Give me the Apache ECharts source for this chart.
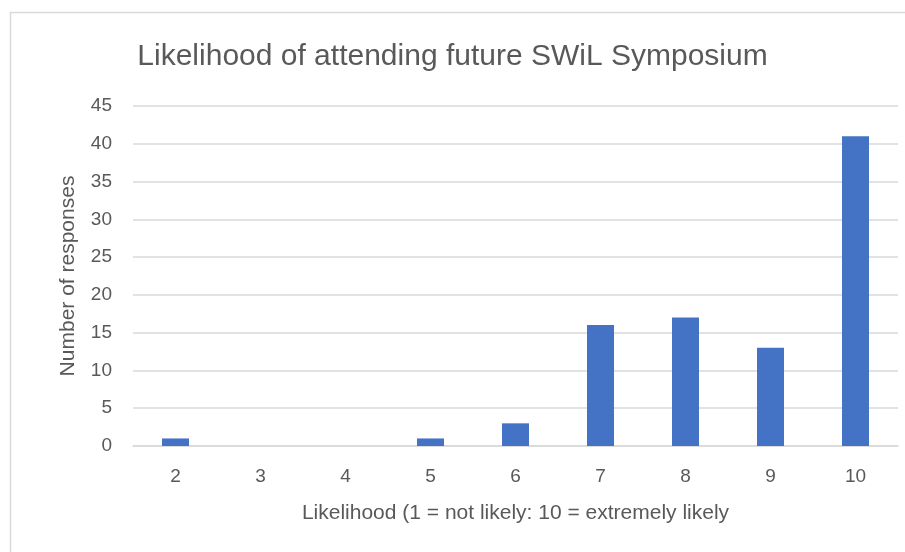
<!DOCTYPE html>
<html><head><meta charset="utf-8">
<script src="https://cdn.jsdelivr.net/npm/echarts@6/dist/echarts.min.js"></script>
<style>html,body{margin:0;padding:0;background:#fff}#c{width:905px;height:552px}</style>
</head><body><div id="c"></div>
<script>
const categories = ['2','3','4','5','6','7','8','9','10'];
const responses = [1,0,0,1,3,16,17,13,41];
const yTicks = {min:0, max:45, interval:5};
const titleText = 'Likelihood of attending future SWiL Symposium';
const xAxisName = 'Likelihood (1 = not likely: 10 = extremely likely';
const yAxisName = 'Number of responses';

const chart = echarts.init(document.getElementById('c'));
const txt = '#595959';
const font = 'Liberation Sans';
chart.setOption({
  animation:false,
  graphic:[{type:'rect',shape:{x:10.5,y:12.5,width:1000,height:600},style:{fill:'none',stroke:'#d9d9d9',lineWidth:1.5},silent:true}],
  title:{text:titleText,left:'center',top:37,textStyle:{color:txt,fontFamily:font,fontWeight:'normal',fontSize:30}},
  grid:{left:133,right:7,top:106,bottom:106},
  xAxis:{type:'category',data:categories,
    axisLine:{lineStyle:{color:'#d9d9d9',width:1.5}},axisTick:{show:false},
    axisLabel:{color:txt,fontFamily:font,fontSize:19,margin:21},
    name:xAxisName,nameLocation:'middle',nameGap:57,
    nameTextStyle:{color:txt,fontFamily:font,fontSize:21}},
  yAxis:{type:'value',min:yTicks.min,max:yTicks.max,interval:yTicks.interval,
    axisLine:{show:false},axisTick:{show:false},
    splitLine:{lineStyle:{color:'#d9d9d9',width:1.5}},
    axisLabel:{color:txt,fontFamily:font,fontSize:19,margin:21},
    name:yAxisName,nameLocation:'middle',nameGap:54,
    nameTextStyle:{color:txt,fontFamily:font,fontSize:21}},
  series:[{type:'bar',data:responses,barWidth:27,itemStyle:{color:'#4472C4'}}]
});
</script></body></html>
